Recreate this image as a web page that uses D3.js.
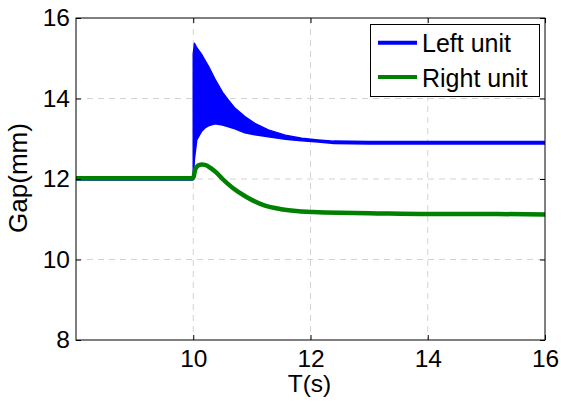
<!DOCTYPE html>
<html>
<head>
<meta charset="utf-8">
<script src="https://cdn.jsdelivr.net/npm/d3@7"></script>
<style>
  html, body { margin: 0; padding: 0; background: #fff; }
  text { font-family: "Liberation Sans", Arial, sans-serif; fill: #000; }
</style>
</head>
<body>
<svg id="chart" width="561" height="403"></svg>
<script>
// ---- data ----
const xTicks = [10, 12, 14, 16];
const yTicks = [8, 10, 12, 14, 16];
const seriesNames = ["Left unit", "Right unit"];

// Left unit: steady segments (centre line)
const leftPreT  = [8, 10];
const leftPreV  = [12.0, 12.0];
const leftPostT = [12.40, 13, 14, 15, 16];
const leftPostV = [12.91, 12.90, 12.90, 12.90, 12.90];
// Left unit: oscillation envelope after the disturbance
const leftBandT     = [10.00, 10.02, 10.06, 10.10, 10.14, 10.20, 10.26, 10.37, 10.50, 10.60, 10.71, 10.88, 11.05, 11.28, 11.57, 11.85, 12.13, 12.40];
const leftBandUpper = [15.10, 15.37, 15.26, 15.18, 15.10, 14.95, 14.80, 14.48, 14.15, 13.96, 13.76, 13.55, 13.38, 13.22, 13.09, 13.01, 12.97, 12.94];
const leftBandLower = [12.00, 12.50, 12.97, 13.08, 13.18, 13.27, 13.32, 13.37, 13.34, 13.30, 13.25, 13.15, 13.10, 13.05, 12.99, 12.95, 12.92, 12.88];

// Right unit
const rightT = [8, 10.0, 10.03, 10.08, 10.14, 10.20, 10.30, 10.40, 10.50, 10.68, 10.90, 11.20, 11.50, 11.80, 12.05, 12.50, 13.00, 14.00, 15.00, 16.00];
const rightV = [12.02, 12.02, 12.22, 12.33, 12.36, 12.35, 12.27, 12.15, 12.00, 11.77, 11.56, 11.35, 11.25, 11.20, 11.18, 11.16, 11.15, 11.13, 11.13, 11.12];

// ---- layout ----
const L = 76, R = 545, T = 18, B = 340;
const svg = d3.select("#chart");
const x = d3.scaleLinear().domain([8, 16]).range([L, R]);
const y = d3.scaleLinear().domain([8, 16]).range([B, T]);
const blue = "#0000ff", green = "#008000";
const fs = 24.5;

// grid
const grid = svg.append("g");
grid.selectAll(".gx").data(xTicks.filter(d => d > 8 && d < 16)).join("line")
  .attr("x1", d => x(d)).attr("x2", d => x(d)).attr("y1", T).attr("y2", B)
  .attr("stroke", "#d3d3d3").attr("stroke-dasharray", "6,5").attr("stroke-width", 1);
grid.selectAll(".gy").data(yTicks.filter(d => d > 8 && d < 16)).join("line")
  .attr("y1", d => y(d)).attr("y2", d => y(d)).attr("x1", L).attr("x2", R)
  .attr("stroke", "#d3d3d3").attr("stroke-dasharray", "6,5").attr("stroke-width", 1);

// clip
svg.append("clipPath").attr("id", "clip").append("rect")
  .attr("x", L).attr("y", T).attr("width", R - L).attr("height", B - T);
const plot = svg.append("g").attr("clip-path", "url(#clip)");

const line = d3.line().x(d => x(d[0])).y(d => y(d[1]));
const area = d3.area().x(d => x(d[0])).y0(d => y(d[2])).y1(d => y(d[1]));

// Left unit
plot.append("path").datum(leftPreT.map((t, i) => [t, leftPreV[i]]))
  .attr("d", line).attr("fill", "none").attr("stroke", blue).attr("stroke-width", 3.5);
plot.append("path").datum(leftBandT.map((t, i) => [t, leftBandUpper[i], leftBandLower[i]]))
  .attr("d", area).attr("fill", blue).attr("stroke", blue).attr("stroke-width", 1.5)
  .attr("stroke-linejoin", "round");
plot.append("path").datum(leftPostT.map((t, i) => [t, leftPostV[i]]))
  .attr("d", line).attr("fill", "none").attr("stroke", blue).attr("stroke-width", 4);

// Right unit
plot.append("path").datum(rightT.map((t, i) => [t, rightV[i]]))
  .attr("d", d3.line().x(d => x(d[0])).y(d => y(d[1])).curve(d3.curveMonotoneX))
  .attr("fill", "none").attr("stroke", green)
  .attr("stroke-width", 4.5).attr("stroke-linejoin", "round");

// axes box & ticks (inward, all four sides)
const tickLen = 5;
const axB = d3.axisBottom(x).tickValues(xTicks).tickSizeInner(-tickLen).tickSizeOuter(0).tickPadding(10).tickFormat(d3.format("d"));
const axT = d3.axisTop(x).tickValues(xTicks).tickSizeInner(-tickLen).tickSizeOuter(0).tickFormat("");
const axL = d3.axisLeft(y).tickValues(yTicks).tickSizeInner(-tickLen).tickSizeOuter(0).tickPadding(6).tickFormat(d3.format("d"));
const axR = d3.axisRight(y).tickValues(yTicks).tickSizeInner(-tickLen).tickSizeOuter(0).tickFormat("");

function styleAxis(g) {
  g.select(".domain").remove();
  g.selectAll("line").attr("stroke", "#000");
  g.selectAll("text").attr("font-size", fs).attr("font-family", '"Liberation Sans", Arial, sans-serif').attr("fill", "#000");
}
svg.append("g").attr("transform", `translate(0,${B})`).call(axB).call(styleAxis);
svg.append("g").attr("transform", `translate(0,${T})`).call(axT).call(styleAxis);
svg.append("g").attr("transform", `translate(${L},0)`).call(axL).call(styleAxis);
svg.append("g").attr("transform", `translate(${R},0)`).call(axR).call(styleAxis);

svg.append("rect").attr("x", L).attr("y", T).attr("width", R - L).attr("height", B - T)
  .attr("fill", "none").attr("stroke", "#000").attr("stroke-width", 1);

// axis labels
svg.append("text").attr("x", (L + R) / 2 - 1).attr("y", 392).attr("text-anchor", "middle")
  .attr("font-size", 24.5).text("T(s)");
svg.append("text").attr("transform", `translate(27,178) rotate(-90)`).attr("text-anchor", "middle")
  .attr("font-size", 26).text("Gap(mm)");

// legend
const lg = svg.append("g");
lg.append("rect").attr("x", 370.5).attr("y", 24.5).attr("width", 169).attr("height", 72)
  .attr("fill", "#fff").attr("stroke", "#000").attr("stroke-width", 1);
const legY = [42.7, 77];
const colors = [blue, green];
seriesNames.forEach((name, i) => {
  lg.append("line").attr("x1", 378).attr("x2", 417).attr("y1", legY[i]).attr("y2", legY[i])
    .attr("stroke", colors[i]).attr("stroke-width", 4);
  lg.append("text").attr("x", 422).attr("y", legY[i] + 9.5).attr("font-size", 25).text(name);
});
</script>
</body>
</html>
